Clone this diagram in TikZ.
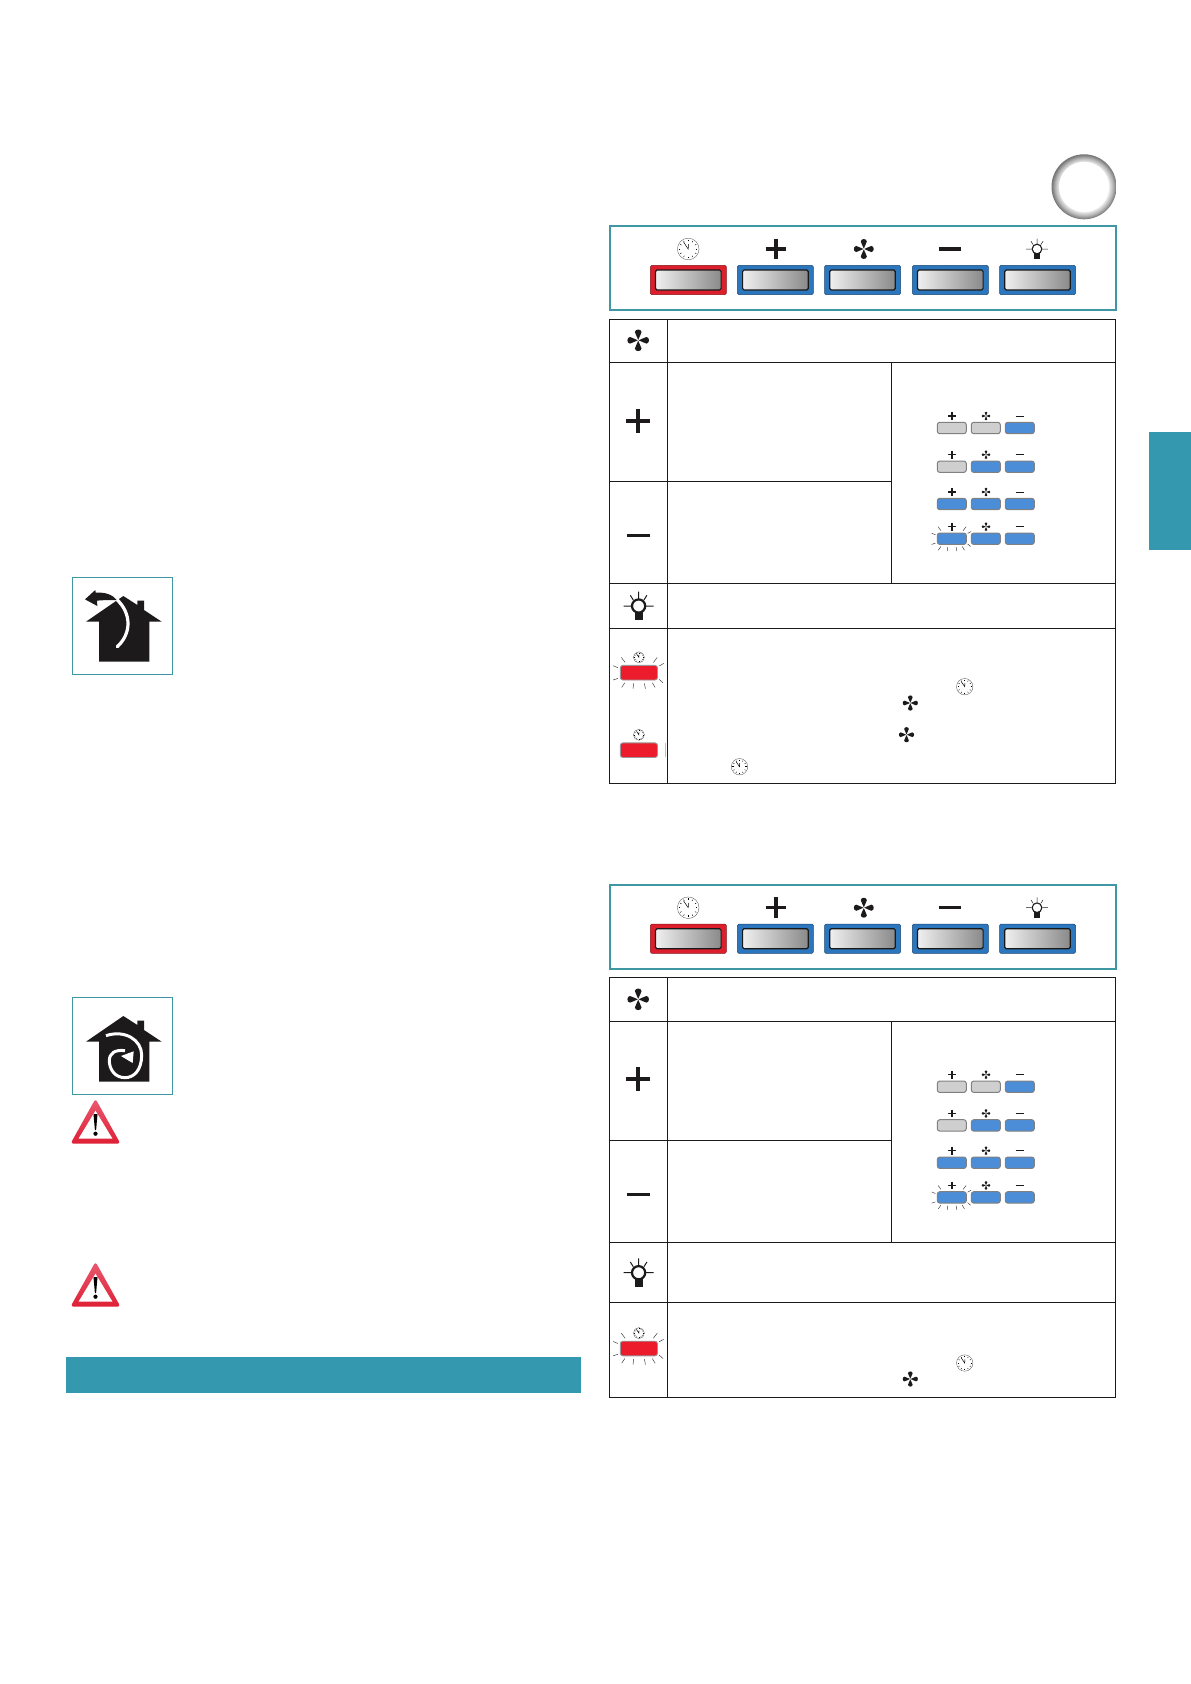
\documentclass[tikz,border=0pt]{standalone}
\usepackage{tikz}
\definecolor{tealedge}{HTML}{3F97A3}
\definecolor{tealfill}{HTML}{3499AF}
\definecolor{keyred}{HTML}{DD1F2D}
\definecolor{keyblue}{HTML}{2C76BE}
\definecolor{lampblue}{HTML}{4B8DD6}
\definecolor{lampgrey}{HTML}{CFCFCF}
\definecolor{lampred}{HTML}{EC1C2C}
\definecolor{inkblack}{HTML}{1C1A1A}
\definecolor{warntop}{HTML}{E85A70}
\definecolor{warnlow}{HTML}{DF2035}
\pgfdeclareradialshading{ringshade}{\pgfpoint{0bp}{0bp}}{color(0bp)=(white);color(18.5bp)=(white);color(19.5bp)=(black!10);color(22bp)=(black!28);color(25bp)=(black!55);color(50bp)=(black!55)}
\newcommand{\housebody}{
  \draw[tealedge,line width=0.8pt] (38,22) rectangle (338,314);
  \fill[inkblack] (78,155) -- (190,78) -- (232,105) -- (232,92) -- (252,92) -- (252,120) -- (305,155) -- (268,155) -- (268,275) -- (117,275) -- (117,155) -- cycle;
}
\tikzset{
  tableline/.style={inkblack,line width=0.9pt},
  tealbox/.style={tealedge,line width=2pt},
  pics/plusicon/.style={code={\draw[inkblack,line width=#1] (-1,0) -- (1,0) (0,-1) -- (0,1);}},
  pics/minusicon/.style={code={\draw[inkblack,line width=#1] (-1,0) -- (1,0);}},
  pics/fanicon/.style={code={
    \foreach \a in {0,90,180,270}
      \fill[inkblack,rotate=\a] (0,-0.04) .. controls (0.03,-0.3) and (0.3,-0.5) .. (0.29,-0.72) .. controls (0.28,-1.02) and (-0.28,-1.02) .. (-0.29,-0.72) .. controls (-0.3,-0.5) and (-0.03,-0.3) .. (0,-0.04);
  }},
  pics/clockicon/.style={code={
    \draw[black!75,line width=0.3pt,fill=white] (0,0) circle (1);
    \foreach \a in {0,30,...,330}
      \draw[black,line width=0.45pt] (\a:0.72) -- (\a:0.86);
    \draw[black,line width=0.5pt] (-0.42,-0.62) -- (0,0) -- (0.02,-0.45);
  }},
  pics/lampicon/.style={code={
    \draw[inkblack,line width=#1] (0,0) circle (6.6);
    \fill[inkblack] (-4,5.5) rectangle (4,14);
    \draw[inkblack,line width=0.45*#1] (-15,0) -- (-7.5,0) (7.5,0) -- (15,0) (0,-14.3) -- (0,-7) (-8.3,-10.7) -- (-5.3,-6) (8.3,-10.7) -- (5.3,-6);
  }},
  pics/keybtn/.style={code={
    \draw[#1!60!black,fill=#1,rounded corners=1.5pt,line width=0.5pt] (-38,-14.7) rectangle (38,14.7);
    \shade[left color=white!94!black,middle color=black!20,right color=black!46,rounded corners=1.5pt] (-32.8,-10) rectangle (32.8,10);
    \draw[black!90,rounded corners=1.5pt,line width=1.2pt] (-32.8,-10) rectangle (32.8,10);
  }},
  pics/lampbtn/.style={code={
    \draw[black!50,fill=#1,rounded corners=2.5pt,line width=1pt] (-14.5,-5.7) rectangle (14.5,5.7);
  }},
  pics/flashrays/.style={code={
    \draw[black!80,line width=0.45pt] (-17.6,-15.3) -- (-13.8,-10.3) (18.3,-15.3) -- (14.5,-10.3) (-25.8,-7) -- (-21,-5) (24.8,-9.3) -- (20.3,-6.7) (-25.8,7.3) -- (-21,5.7) (24.1,10) -- (20.3,6.7) (-17.2,14.7) -- (-14.1,10) (-5.9,16) -- (-5.2,10.7) (6.5,16) -- (5.5,10.7) (16.2,14.7) -- (13.4,10);
  }},
  pics/redlamp/.style={code={
    \draw[black!40,fill=lampred,rounded corners=2.5pt,line width=0.9pt] (-18.6,-7.3) rectangle (18.6,7.3);
    \path (0,-15.4) pic[scale=5.5] {clockicon};
  }},
  pics/panelkeys/.style={code={
    \draw[tealbox] (609.6,226) rectangle (1115.5,310);
    \path (688.3,280) pic {keybtn=keyred};
    \path (775.4,280) pic {keybtn=keyblue};
    \path (862.5,280) pic {keybtn=keyblue};
    \path (950.3,280) pic {keybtn=keyblue};
    \path (1037.5,280) pic {keybtn=keyblue};
    \path (688.2,249) pic[scale=10.8] {clockicon};
    \path (776,249) pic[scale=10.3] {plusicon=3.2};
    \path (863.8,249) pic[scale=10.5] {fanicon};
    \path (949.5,249) pic[scale=11] {minusicon=3.2};
    \path (1037,249) pic[scale=0.73] {lampicon=1.1};
  }},
  pics/speedrows/.style={code={
    \foreach \y/\a/\b in {428/lampgrey/lampgrey,466.7/lampgrey/lampblue,504/lampblue/lampblue,538.7/lampblue/lampblue} {
      \path (951.8,\y) pic {lampbtn=\a};
      \path (985.8,\y) pic {lampbtn=\b};
      \path (1019.8,\y) pic {lampbtn=lampblue};
      \path (952,\y-12) pic[scale=3.9] {plusicon=1.1};
      \path (986,\y-12) pic[scale=4.6] {fanicon};
      \path (1020,\y-12) pic[scale=4.3] {minusicon=1};
    }
    \path (951.8,538.7) pic[scale=0.78] {flashrays};
  }},
  pics/warnsign/.style={code={
    \shade[top color=warntop,bottom color=warnlow,rounded corners=3pt] (0,-3) -- (25,42) -- (-25,42) -- cycle;
    \fill[white] (0,9) -- (17,37) -- (-17,37) -- cycle;
    \fill[black] (-2,12.5) -- (2,12.5) -- (0.6,28.3) -- (-0.6,28.3) -- cycle;
    \fill[black] (0,32) circle (2.1);
  }}
}
\begin{document}
\begin{tikzpicture}[x=1pt,y=-1pt]
  \useasboundingbox (0,0) rectangle (1191,1684);
  \shade[shading=ringshade] (1084,186.8) circle (32.5);
  \fill[white] (1084,186.8) circle (25);
  \path (0,0) pic {panelkeys};
  \path (0,658.7) pic {panelkeys};
  \fill[tealfill] (1149,432) rectangle (1191,549.7);
  \fill[tealfill] (65.5,1356.7) rectangle (581,1392.7);

  \draw[tableline] (609.6,319.3) rectangle (1115.5,783.3);
  \draw[tableline] (667.5,319.3) -- (667.5,783.3);
  \draw[tableline] (609.6,362.3) -- (1115.5,362.3);
  \draw[tableline] (609.6,481) -- (891.7,481);
  \draw[tableline] (891.7,362.3) -- (891.7,583.7);
  \draw[tableline] (609.6,583.7) -- (1115.5,583.7);
  \draw[tableline] (609.6,628.3) -- (1115.5,628.3);
  \path (638.2,340.3) pic[scale=11.4] {fanicon};
  \path (637.9,420.6) pic[scale=12] {plusicon=4.2};
  \path (638.5,535.6) pic[scale=11.5] {minusicon=3.4};
  \path (638.6,606) pic {lampicon=2.2};
  \path (0,0) pic {speedrows};
  \path (638.9,672.7) pic {redlamp};
  \path (638.9,672.7) pic {flashrays};
  \path (638.9,750.2) pic {redlamp};
  \draw[black!25,line width=0.5pt] (665.4,743) -- (665.4,757);
  \path (964.7,686.7) pic[scale=8.2] {clockicon};
  \path (910.3,703) pic[scale=8] {fanicon};
  \path (906.5,734.7) pic[scale=8] {fanicon};
  \path (739.5,766.7) pic[scale=8.2] {clockicon};

  \draw[tableline] (609.6,977.7) rectangle (1115.5,1397.3);
  \draw[tableline] (667.5,977.7) -- (667.5,1397.3);
  \draw[tableline] (609.6,1021.3) -- (1115.5,1021.3);
  \draw[tableline] (609.6,1140.3) -- (891.7,1140.3);
  \draw[tableline] (891.7,1021.3) -- (891.7,1242.3);
  \draw[tableline] (609.6,1242.3) -- (1115.5,1242.3);
  \draw[tableline] (609.6,1302.3) -- (1115.5,1302.3);
  \path (638.2,999.3) pic[scale=11.4] {fanicon};
  \path (637.9,1079.3) pic[scale=12] {plusicon=4.2};
  \path (638.5,1194.3) pic[scale=11.5] {minusicon=3.4};
  \path (638.6,1272.7) pic {lampicon=2.2};
  \path (0,658.7) pic {speedrows};
  \path (638.9,1348.5) pic {redlamp};
  \path (638.9,1348.5) pic {flashrays};
  \path (964.7,1363) pic[scale=8.2] {clockicon};
  \path (910.3,1379) pic[scale=8] {fanicon};

  \begin{scope}[shift={(60,570)},scale=1/3]
    \housebody
    \draw[white,line width=3.2pt,line cap=round] (170,88) .. controls (215,130) and (215,190) .. (172,230);
    \fill[inkblack] (75,88) -- (106,60) -- (107,68) .. controls (135,66) and (158,74) .. (170,90) .. controls (150,90) and (130,90) .. (111,92) -- (112,108) -- cycle;
  \end{scope}
  \begin{scope}[shift={(60,990)},scale=1/3]
    \housebody
    \draw[white,line width=3pt] (138,137) .. controls (195,118) and (245,150) .. (245,195) .. controls (245,240) and (222,263) .. (195,263) .. controls (165,263) and (148,238) .. (148,212) .. controls (148,190) and (165,178) .. (195,182);
    \fill[white] (221,184) -- (218,219) -- (183,198) -- cycle;
  \end{scope}
  \path (95.5,1101.7) pic {warnsign};
  \path (95.5,1264.7) pic {warnsign};
\end{tikzpicture}
\end{document}
